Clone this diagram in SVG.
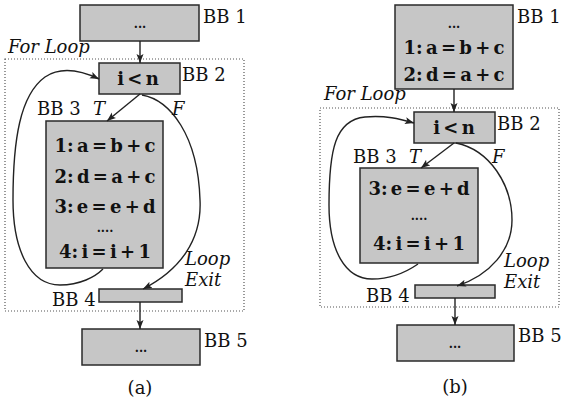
<svg xmlns="http://www.w3.org/2000/svg" width="562" height="403" viewBox="0 0 562 403">
  <style>
    .bb { fill: #c6c6c6; stroke: #2a2a2a; stroke-width: 1.5; }
    .loop { fill: none; stroke: #555; stroke-width: 1.2; stroke-dasharray: 1 2; }
    .edge { fill: none; stroke: #222; stroke-width: 1.4; marker-end: url(#arrow); }
    .code { font-family: "DejaVu Serif", "Liberation Serif", serif; font-weight: bold; font-size: 18px; word-spacing: -3px; fill: #111; text-anchor: middle; }
    .lbl { font-family: "DejaVu Serif", "Liberation Serif", serif; font-size: 18px; fill: #111; }
    .it { font-family: "DejaVu Serif", "Liberation Serif", serif; font-style: italic; font-size: 18px; fill: #111; }
    .dots { font-family: "DejaVu Serif", "Liberation Serif", serif; font-weight: bold; font-size: 12px; fill: #111; text-anchor: middle; }
  </style>
  <defs>
    <marker id="arrow" markerWidth="10" markerHeight="8" refX="9" refY="4" orient="auto" markerUnits="userSpaceOnUse">
      <path d="M0,0.5 L9,4 L0,7.5 L2,4 Z" fill="#222"/>
    </marker>
  </defs>

  <!-- (a) -->
  <g id="a-loop-region">
    <rect class="loop" x="5" y="59" width="239" height="252"/>
    <text class="it" x="8" y="53">For Loop</text>
  </g>
  <g id="a-bb1">
    <rect class="bb" x="80" y="5" width="119" height="36"/>
    <text class="dots" x="140" y="28">...</text>
    <text class="lbl" x="203" y="23">BB 1</text>
  </g>
  <g id="a-bb2">
    <rect class="bb" x="99" y="63" width="81" height="31"/>
    <text class="code" x="138" y="85">i &lt; n</text>
    <text class="lbl" x="182" y="81">BB 2</text>
  </g>
  <g id="a-bb3">
    <rect class="bb" x="46" y="121" width="117" height="147"/>
    <text class="code" x="105" y="152">1: a = b + c</text>
    <text class="code" x="105" y="183">2: d = a + c</text>
    <text class="code" x="105" y="213">3: e = e + d</text>
    <text class="dots" x="105" y="232">....</text>
    <text class="code" x="105" y="258">4: i = i + 1</text>
    <text class="lbl" x="37" y="115">BB 3</text>
  </g>
  <g id="a-bb4">
    <rect class="bb" x="99" y="289" width="83" height="13"/>
    <text class="lbl" x="52" y="306">BB 4</text>
  </g>
  <g id="a-bb5">
    <rect class="bb" x="82" y="329" width="118" height="36"/>
    <text class="dots" x="141" y="352">...</text>
    <text class="lbl" x="204" y="347">BB 5</text>
  </g>
  <g id="a-edges">
    <path class="edge" d="M140,41 L140,63"/>
    <path class="edge" d="M140,94 L107,121"/>
    <path class="edge" d="M142,95 C170,100 198,135 200,200 C202,240 180,270 143,289"/>
    <path class="edge" d="M103,269 C95,277 80,285 60,285 C30,285 13,250 13,200 C13,140 20,95 45,77 C60,67 80,70 99,79"/>
    <path class="edge" d="M140,302 L140,329"/>
    <text class="it" x="93" y="115">T</text>
    <text class="it" x="172" y="115">F</text>
    <text class="it" x="185" y="265">Loop</text>
    <text class="it" x="185" y="286">Exit</text>
  </g>
  <text class="lbl" x="140" y="394" text-anchor="middle">(a)</text>

  <!-- (b) -->
  <g id="b-loop-region">
    <rect class="loop" x="320" y="108" width="239" height="199"/>
    <text class="it" x="324" y="100">For Loop</text>
  </g>
  <g id="b-bb1">
    <rect class="bb" x="395" y="5" width="118" height="84"/>
    <text class="dots" x="454" y="28">...</text>
    <text class="code" x="454" y="54">1: a = b + c</text>
    <text class="code" x="454" y="81">2: d = a + c</text>
    <text class="lbl" x="517" y="23">BB 1</text>
  </g>
  <g id="b-bb2">
    <rect class="bb" x="414" y="112" width="81" height="31"/>
    <text class="code" x="454" y="134">i &lt; n</text>
    <text class="lbl" x="497" y="130">BB 2</text>
  </g>
  <g id="b-bb3">
    <rect class="bb" x="360" y="168" width="118" height="95"/>
    <text class="code" x="419" y="195">3: e = e + d</text>
    <text class="dots" x="419" y="220">....</text>
    <text class="code" x="419" y="250">4: i = i + 1</text>
    <text class="lbl" x="353" y="163">BB 3</text>
  </g>
  <g id="b-bb4">
    <rect class="bb" x="415" y="285" width="80" height="13"/>
    <text class="lbl" x="366" y="302">BB 4</text>
  </g>
  <g id="b-bb5">
    <rect class="bb" x="397" y="325" width="117" height="36"/>
    <text class="dots" x="455" y="348">...</text>
    <text class="lbl" x="518" y="342">BB 5</text>
  </g>
  <g id="b-edges">
    <path class="edge" d="M454,89 L454,112"/>
    <path class="edge" d="M454,143 L421,168"/>
    <path class="edge" d="M456,143 C490,150 512,185 512,220 C512,250 490,275 457,286"/>
    <path class="edge" d="M418,264 C405,273 390,279 372,279 C345,279 329,250 329,205 C329,150 335,120 365,117 C385,115 400,119 414,123"/>
    <path class="edge" d="M455,298 L455,325"/>
    <text class="it" x="409" y="163">T</text>
    <text class="it" x="492" y="163">F</text>
    <text class="it" x="504" y="267">Loop</text>
    <text class="it" x="504" y="288">Exit</text>
  </g>
  <text class="lbl" x="455" y="393" text-anchor="middle">(b)</text>
</svg>
